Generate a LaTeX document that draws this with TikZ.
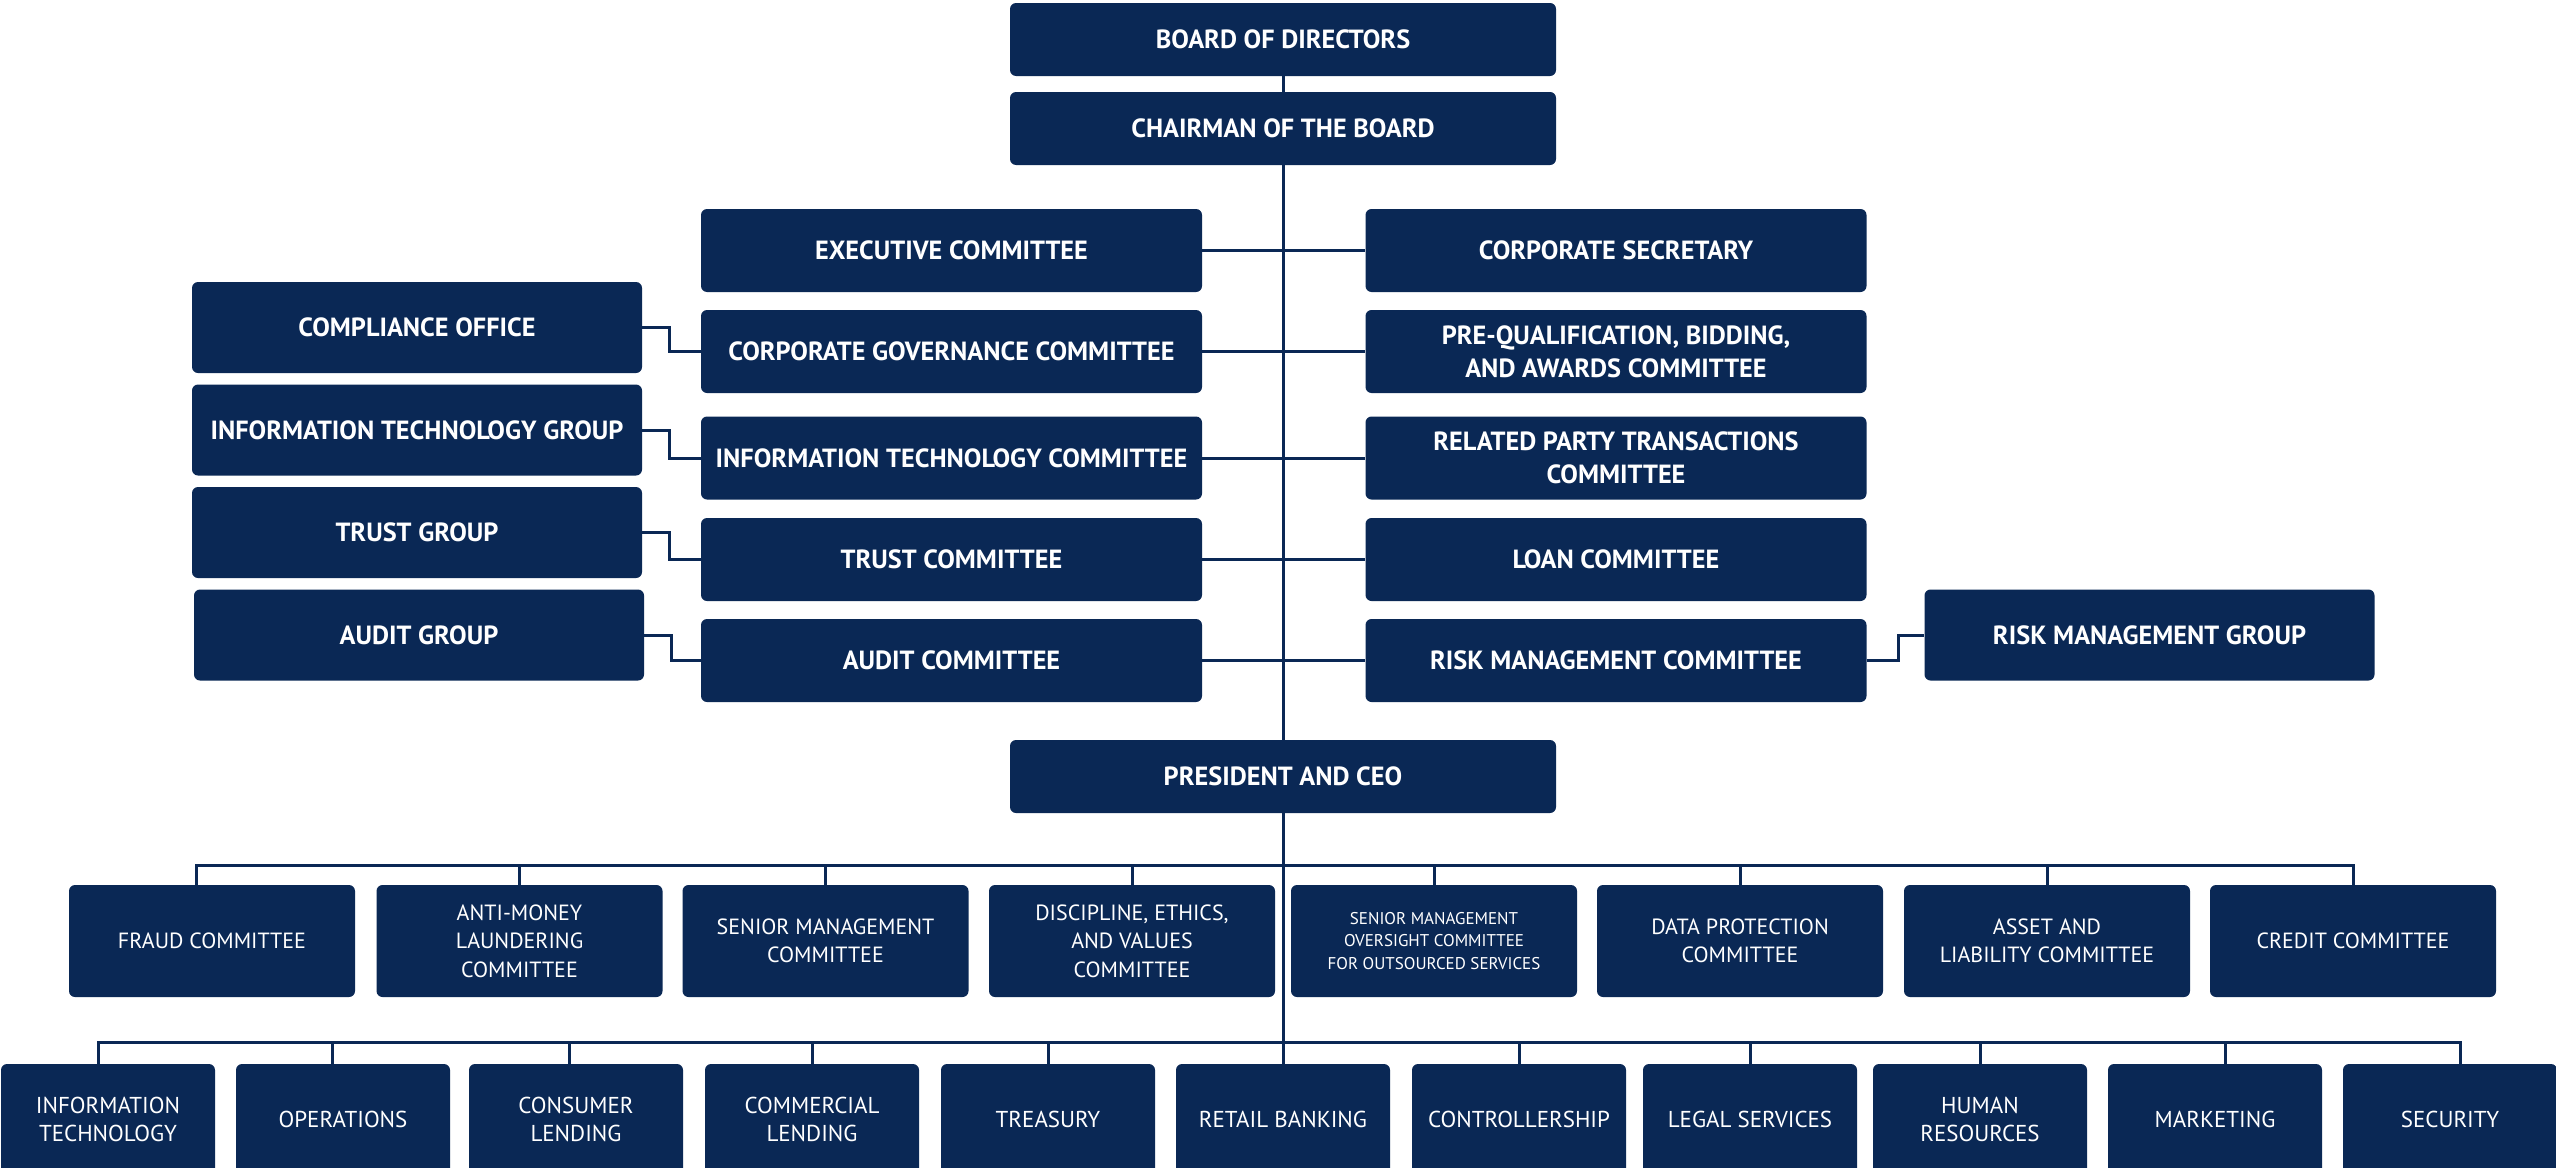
\documentclass[tikz,border=0pt]{standalone}
\usepackage{fontspec}
\setmainfont{PT Sans}
\definecolor{navy}{RGB}{10,40,85}
\begin{document}
\begin{tikzpicture}[x=1pt,y=-1pt,
  box/.style={fill=navy, rounded corners=6pt, text=white, align=center, inner sep=0pt},
  topbox/.style={box, minimum width=546pt, minimum height=73pt, font=\bfseries\fontsize{26.3}{33}\selectfont},
  ubox/.style={box, minimum width=501pt, minimum height=83pt, font=\bfseries\fontsize{26.3}{33}\selectfont},
  gbox/.style={box, minimum width=450pt, minimum height=91pt, font=\bfseries\fontsize{26.3}{33}\selectfont},
  mbox/.style={box, minimum width=286pt, minimum height=112pt, font=\fontsize{22}{28.5}\selectfont},
  bbox/.style={box, minimum width=214pt, minimum height=111pt, font=\fontsize{23}{28}\selectfont},
  link/.style={draw=navy, line width=3pt},
]
\useasboundingbox (0,0) rectangle (2556,1167);
\fill[white] (0,0) rectangle (2556,1167);
\begin{scope}
\clip (0,0) rectangle (2556,1167);
% top
\node[topbox] (board) at (1283,39.5) {BOARD OF DIRECTORS};
\node[topbox] (chair) at (1283,128.5) {CHAIRMAN OF THE BOARD};
\node[topbox] (pres) at (1283,776.5) {PRESIDENT AND CEO};
% left committees
\node[ubox] (exec) at (951.5,250.5) {EXECUTIVE COMMITTEE};
\node[ubox] (cgc) at (951.5,351.5) {CORPORATE GOVERNANCE COMMITTEE};
\node[ubox] (itc) at (951.5,458) {INFORMATION TECHNOLOGY COMMITTEE};
\node[ubox] (trc) at (951.5,559.5) {TRUST COMMITTEE};
\node[ubox] (auc) at (951.5,660.5) {AUDIT COMMITTEE};
% right committees
\node[ubox] (csec) at (1616,250.5) {CORPORATE SECRETARY};
\node[ubox] (pqb) at (1616,351.5) {PRE-QUALIFICATION, BIDDING,\\AND AWARDS COMMITTEE};
\node[ubox] (rpt) at (1616,458) {RELATED PARTY TRANSACTIONS\\COMMITTEE};
\node[ubox] (loan) at (1616,559.5) {LOAN COMMITTEE};
\node[ubox] (rmc) at (1616,660.5) {RISK MANAGEMENT COMMITTEE};
% groups
\node[gbox] (comp) at (417,327.5) {COMPLIANCE OFFICE};
\node[gbox] (itg) at (417,430) {INFORMATION TECHNOLOGY GROUP};
\node[gbox] (trg) at (417,532.5) {TRUST GROUP};
\node[gbox] (aug) at (419,635) {AUDIT GROUP};
\node[gbox] (rmg) at (2149.5,635) {RISK MANAGEMENT GROUP};
% middle row
\node[mbox] (fraud) at (212,941) {FRAUD COMMITTEE};
\node[mbox] (aml) at (519.5,941) {ANTI-MONEY\\LAUNDERING\\COMMITTEE};
\node[mbox] (smc) at (825.5,941) {SENIOR MANAGEMENT\\COMMITTEE};
\node[mbox] (dev) at (1132,941) {DISCIPLINE, ETHICS,\\AND VALUES\\COMMITTEE};
\node[mbox, font=\fontsize{17}{22.5}\selectfont] (smo) at (1434,941) {SENIOR MANAGEMENT\\OVERSIGHT COMMITTEE\\FOR OUTSOURCED SERVICES};
\node[mbox] (dpc) at (1740,941) {DATA PROTECTION\\COMMITTEE};
\node[mbox] (alc) at (2047,941) {ASSET AND\\LIABILITY COMMITTEE};
\node[mbox] (crc) at (2353,941) {CREDIT COMMITTEE};
% bottom row
\node[bbox] (it) at (108,1119.5) {INFORMATION\\TECHNOLOGY};
\node[bbox] (ops) at (343,1119.5) {OPERATIONS};
\node[bbox] (cons) at (576,1119.5) {CONSUMER\\LENDING};
\node[bbox] (comm) at (812,1119.5) {COMMERCIAL\\LENDING};
\node[bbox] (tre) at (1048,1119.5) {TREASURY};
\node[bbox] (ret) at (1283,1119.5) {RETAIL BANKING};
\node[bbox] (ctl) at (1519,1119.5) {CONTROLLERSHIP};
\node[bbox] (leg) at (1750,1119.5) {LEGAL SERVICES};
\node[bbox] (hr) at (1980,1119.5) {HUMAN\\RESOURCES};
\node[bbox] (mkt) at (2215,1119.5) {MARKETING};
\node[bbox] (sec) at (2450,1119.5) {SECURITY};
% connectors
\coordinate (busA) at (1283,865);
\coordinate (busB) at (1283,1042);
\path[link] (board.south) -- (chair.north);
\path[link] (chair.south) -- (pres.north);
\path[link] (pres.south) -- (ret.north);
\foreach \a/\b in {exec/csec, cgc/pqb, itc/rpt, trc/loan, auc/rmc}
  \path[link] (\a.east) -- (\b.west);
\foreach \g/\c in {comp/cgc, itg/itc, trg/trc, aug/auc}
  \path[link] (\g.east) -- ++(27,0) |- (\c.west);
\path[link] (rmc.east) -- ++(32,0) |- (rmg.west);
\foreach \n/\s in {fraud/-16, aml/0, smc/0, dev/0, smo/0, dpc/0, alc/0, crc/0}
  \path[link] ([xshift=\s pt]\n.north) |- (busA);
\foreach \n/\s in {it/-10, ops/-11, cons/-7, comm/0, tre/0, ctl/0, leg/0, hr/0, mkt/10, sec/10}
  \path[link] ([xshift=\s pt]\n.north) |- (busB);
\end{scope}
\end{tikzpicture}
\end{document}
